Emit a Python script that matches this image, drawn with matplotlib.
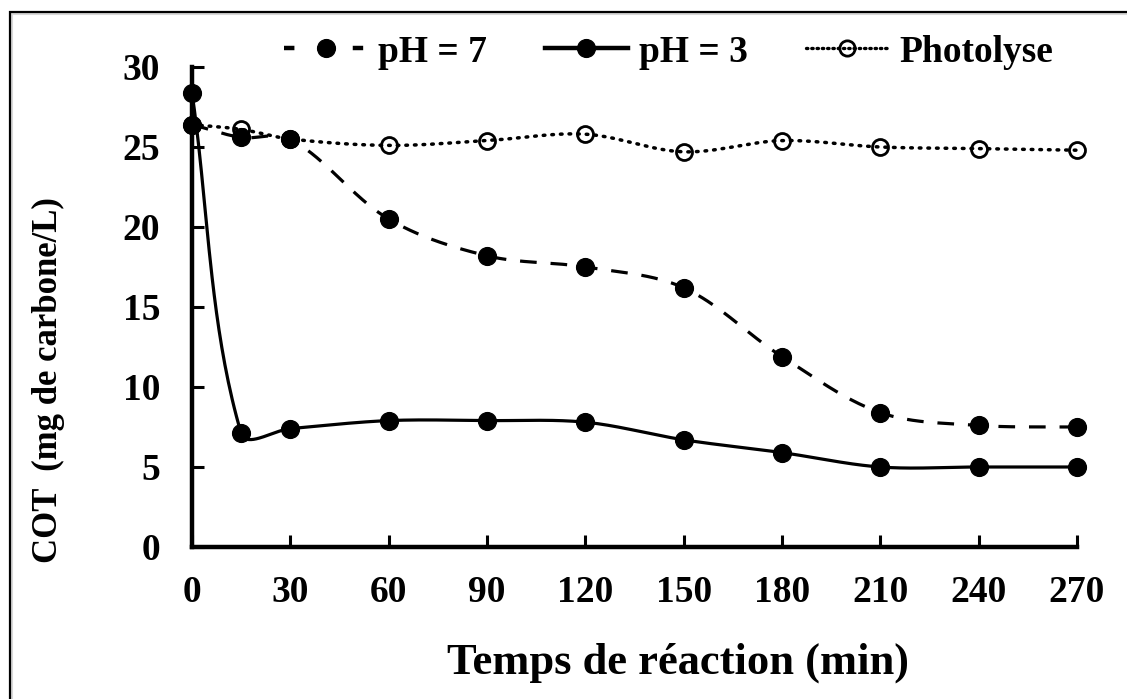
import numpy as np
import matplotlib
matplotlib.use("Agg")
import matplotlib.pyplot as plt
from matplotlib.lines import Line2D
from matplotlib.patches import Rectangle

# Reaction time (min) and total organic carbon (mg C/L)
time_min = [0, 15, 30, 60, 90, 120, 150, 180, 210, 240, 270]
cot_ph7 = [26.4, 25.6, 25.5, 20.5, 18.2, 17.5, 16.2, 11.9, 8.4, 7.6, 7.5]
cot_ph3 = [28.4, 7.1, 7.4, 7.9, 7.9, 7.8, 6.7, 5.9, 5.0, 5.0, 5.0]
cot_photolyse = [26.4, 26.1, 25.5, 25.1, 25.4, 25.8, 24.7, 25.4, 25.0, 24.9, 24.8]

x_ticks = [0, 30, 60, 90, 120, 150, 180, 210, 240, 270]
y_ticks = [0, 5, 10, 15, 20, 25, 30]

series_labels = ["pH = 7", "pH = 3", "Photolyse"]

FONT = "Liberation Serif"
plt.rcParams["font.family"] = [FONT, "DejaVu Serif"]
plt.rcParams["font.weight"] = "bold"
plt.rcParams["lines.scale_dashes"] = False

W, H = 1127, 699
fig = plt.figure(figsize=(W / 100, H / 100), dpi=100)
fig.patch.set_facecolor("white")

# Axes placed in pixel terms
left, right, bottom, top = 192, 1077, 547, 67
ax = fig.add_axes([left / W, 1 - bottom / H, (right - left) / W, (bottom - top) / H])
ax.set_xlim(0, 270)
ax.set_ylim(0, 30)
ax.set_facecolor("none")

for s in ("top", "right"):
    ax.spines[s].set_visible(False)
for s in ("left", "bottom"):
    ax.spines[s].set_linewidth(3.2)
    ax.spines[s].set_capstyle("projecting")

ax.set_xticks(x_ticks)
ax.set_yticks(y_ticks)
ax.set_xticklabels([str(v) for v in x_ticks])
ax.set_yticklabels([str(v) for v in y_ticks])
ax.tick_params(axis="both", direction="in", length=8.5, width=2.2,
               labelsize=27, color="black")
ax.tick_params(axis="x", pad=20)
ax.tick_params(axis="y", pad=23)
for lab in ax.get_xticklabels() + ax.get_yticklabels():
    lab.set_fontweight("bold")


def smooth_curve(xs, ys, n=40):
    """Bezier smoothing computed in display space."""
    pts = ax.transData.transform(np.column_stack([xs, ys]))
    m = len(pts)
    out = [pts[0]]
    for i in range(m - 1):
        p0 = pts[i - 1] if i > 0 else pts[i]
        p1 = pts[i]
        p2 = pts[i + 1]
        p3 = pts[i + 2] if i + 2 < m else pts[i + 1]
        d = np.linalg.norm(p2 - p1)
        t1 = p2 - p0
        t1 = t1 / np.linalg.norm(t1)
        t2 = p3 - p1
        t2 = t2 / np.linalg.norm(t2)
        c1 = p1 + t1 * d / 3.0
        c2 = p2 - t2 * d / 3.0
        s = np.linspace(0, 1, n)[1:, None]
        seg = ((1 - s) ** 3) * p1 + 3 * ((1 - s) ** 2) * s * c1 \
            + 3 * (1 - s) * (s ** 2) * c2 + (s ** 3) * p2
        out.extend(seg)
    out = np.array(out)
    res = ax.transData.inverted().transform(out)
    return res[:, 0], res[:, 1]


lw = 2.3
ms = 12.8

# Photolyse (dotted, open circles)
sx, sy = smooth_curve(time_min, cot_photolyse)
ax.plot(sx, sy, color="black", lw=2.5, linestyle=(0, (1.2, 5.0)),
        dash_capstyle="round", clip_on=False, zorder=2)
ax.plot(time_min, cot_photolyse, linestyle="none", marker="o", ms=11.5,
        mfc="none", mec="black", mew=2.0, clip_on=False, zorder=3)

# pH = 7 (dashed, filled circles)
sx, sy = smooth_curve(time_min, cot_ph7)
ax.plot(sx, sy, color="black", lw=lw, linestyle=(0, (12.0, 10.0)),
        clip_on=False, zorder=4)
ax.plot(time_min, cot_ph7, linestyle="none", marker="o", ms=ms,
        mfc="black", mec="black", clip_on=False, zorder=5)

# pH = 3 (solid, filled circles)
sx, sy = smooth_curve(time_min, cot_ph3)
ax.plot(sx, sy, color="black", lw=lw, linestyle="-",
        clip_on=False, zorder=6)
ax.plot(time_min, cot_ph3, linestyle="none", marker="o", ms=ms,
        mfc="black", mec="black", clip_on=False, zorder=7)

# Legend handles
h7 = Line2D([], [], color="black", lw=3.2, linestyle=(0, (7.5, 42.0)),
            marker="o", ms=ms, mfc="black", mec="black")
h3 = Line2D([], [], color="black", lw=3.2, linestyle="-",
            marker="o", ms=ms, mfc="black", mec="black")
hp = Line2D([], [], color="black", lw=2.4, linestyle=(0, (1.0, 2.8)),
            dash_capstyle="round",
            marker="o", ms=11, mfc="none", mec="black", mew=2.0)
leg = fig.legend([h7, h3, hp], series_labels, loc="center",
                 bbox_to_anchor=(669 / W, 1 - 52 / H), ncol=3, frameon=False,
                 handlelength=2.2, handletextpad=0.3, columnspacing=1.55,
                 numpoints=1, prop={"family": FONT, "weight": "bold", "size": 27})

# Axis titles
fig.text(678 / W, 1 - 663 / H, "Temps de réaction (min)", ha="center", va="center",
         fontsize=32, fontweight="bold", family=FONT)
fig.text(48 / W, 1 - 380 / H, "COT  (mg de carbone/L)", ha="center", va="center",
         rotation=90, fontsize=25, fontweight="bold", family=FONT)

# Outer frame
fig.patches.append(Rectangle((12 / W, -0.1), 1.2, 1.1 - 14 / H,
                             transform=fig.transFigure, fill=False,
                             edgecolor="#d8d8d8", lw=1.5, zorder=0))
fig.patches.append(Rectangle((10 / W, -0.1), 1.2, 1.1 - 12 / H,
                             transform=fig.transFigure, fill=False,
                             edgecolor="black", lw=1.6, zorder=1))

fig.savefig("out.png", dpi=100, facecolor="white")
